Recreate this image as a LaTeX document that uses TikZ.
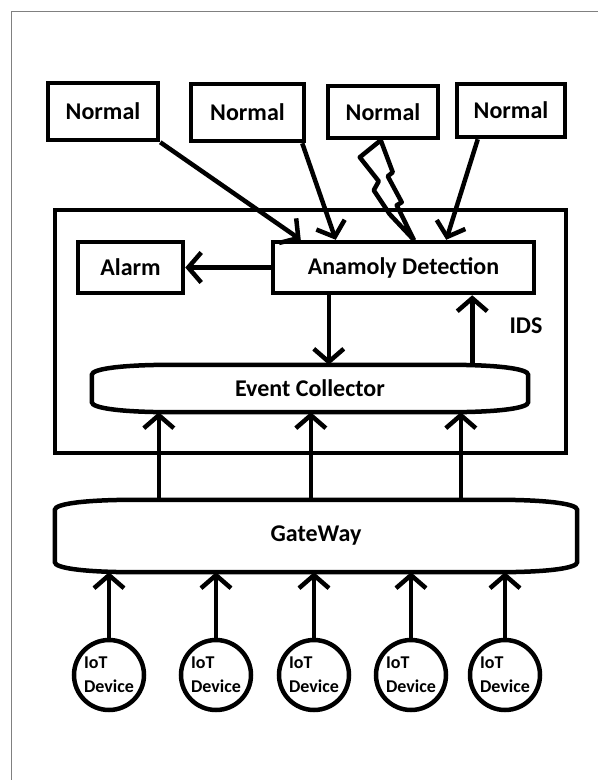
\documentclass[tikz,border=0pt]{standalone}
\usepackage{fontspec}
\setmainfont{Carlito}
\usetikzlibrary{arrows.meta,calc}
\tikzset{
    box/.style={draw,line width=4.5pt,inner sep=0pt,font=\fontsize{24}{28}\selectfont\bfseries},
    drum/.style={inner sep=0pt,font=\fontsize{24}{28}\selectfont\bfseries},
    device/.style={draw,circle,line width=4.5pt,inner sep=0pt,minimum size=70pt,align=left,
        font=\fontsize{18}{24}\selectfont\bfseries},
    arr/.style={line width=4.5pt,-{Straight Barb[length=13pt,width=30pt]}},
    bolt/.style={line width=4.5pt,line join=round},
}
% barrel outline round a node
\newcommand{\drumline}[1]{
    \draw[line width=4.5pt] ($(#1.north west)+(0,10)$) .. controls +(0,-6) and +(-50,0) .. ($(#1.north west)+(80,0)$)
        -- ($(#1.north east)+(-80,0)$) .. controls +(50,0) and +(0,-6) .. ($(#1.north east)+(0,10)$)
        -- ($(#1.south east)+(0,-10)$) .. controls +(0,6) and +(50,0) .. ($(#1.south east)+(-80,0)$)
        -- ($(#1.south west)+(80,0)$) .. controls +(-50,0) and +(0,6) .. ($(#1.south west)+(0,-10)$) -- cycle;
}

\begin{document}
\begin{tikzpicture}[x=1pt,y=-1pt]
    \useasboundingbox (0,0) rectangle (598,780);
    \draw[gray,line width=1pt] (11,780) -- (11,11) -- (598,11);
    % sources
    \node[box,minimum width=110pt,minimum height=57pt] (n1) at (103,111.5) {Normal};
    \node[box,minimum width=113pt,minimum height=57pt] (n2) at (247.5,112.5) {Normal};
    \node[box,minimum width=110pt,minimum height=52pt] (n3) at (383,112) {Normal};
    \node[box,minimum width=108pt,minimum height=53pt] (n4) at (511,110.5) {Normal};
    % IDS
    \node[box,minimum width=511pt,minimum height=243pt] (ids) at (310.5,331.5) {};
    \node[font=\fontsize{24}{28}\selectfont\bfseries] (idslabel) at (526,326) {IDS};
    \node[box,minimum width=105pt,minimum height=51pt] (alarm) at (130.5,267.5) {Alarm};
    \node[box,minimum width=261pt,minimum height=51pt] (ad) at (403.5,267.5) {Anamoly Detection};
    \node[drum,minimum width=436pt,minimum height=47pt] (ec) at (310,388.5) {Event Collector};
    \drumline{ec}
    \node[drum,minimum width=522pt,minimum height=72pt] (gw) at (316,536) {GateWay};
    \drumline{gw}
    % devices
    \foreach \x [count=\i] in {109,216,314,411,505}
        \node[device] (d\i) at (\x,675) {IoT\\Device};

    \draw[arr] (n1.south east) -- ([xshift=30pt]ad.north west);
    \draw[arr] ([xshift=-4pt]n2.south east) -- ([xshift=65pt]ad.north west);
    \draw[arr] ([xshift=23pt]n4.south west) -- ([xshift=-90pt]ad.north east);
    \coordinate (bt) at ([xshift=55pt]n3.south west);
    \coordinate (bb) at ([xshift=143pt]ad.north west);
    \draw[bolt] (bt) -- ++(-21,17) -- ++(19,24) -- ++(-5,9) -- ++(16,24) -- (bb)
        -- ($(bt)+(16,65)$) -- ++(5,-3) -- ++(-14,-26) -- ++(5,-4) -- cycle;
    \draw[arr] (ad.west) -- (alarm.east);
    \draw[arr] ([xshift=58pt]ad.south west) -- ([xshift=58pt]ad.south west |- ec.north);
    \draw[arr] ([xshift=-64pt]ad.south east |- ec.north) -- ([xshift=-64pt]ad.south east);
    \foreach \dx in {104,256,406}
        \draw[arr] ([xshift=\dx pt]gw.north west) -- ([xshift=\dx pt]gw.north west |- ec.south);
    \foreach \i in {1,...,5}
        \draw[arr] (d\i.north) -- (d\i.north |- gw.south);
\end{tikzpicture}
\end{document}
